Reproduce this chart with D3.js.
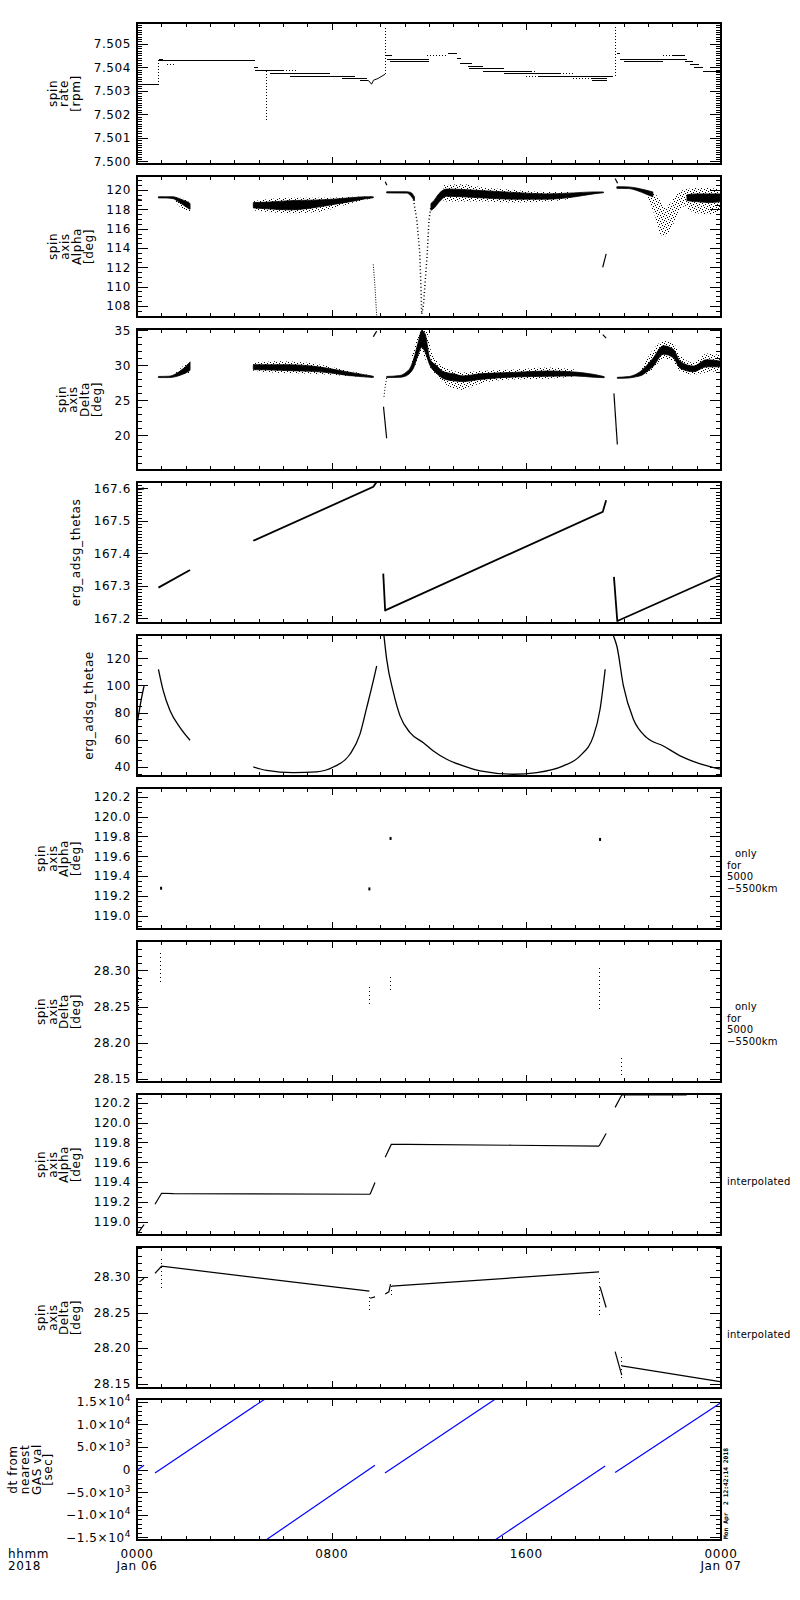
<!DOCTYPE html>
<html>
<head>
<meta charset="utf-8">
<script src="https://cdn.jsdelivr.net/npm/d3@7"></script>
<style>
  body { margin: 0; background: #fff; }
  svg { display: block; font-family: "DejaVu Sans", sans-serif; }
  svg text { letter-spacing: 0.6px; }
</style>
</head>
<body>
<div id="chart"></div>
<script>
// ---- data (time in hours after 0000 Jan 06 2018) ----

// spin rate steps [h0, h1, rpm]
const rateSteps = [
  [0, 0.9, 7.50325], [0.9, 1.08, 7.50435], [0.92, 4.85, 7.50428], [4.81, 4.99, 7.50398],
  [4.85, 6.0, 7.50385], [5.47, 7.93, 7.50375], [6.29, 8.96, 7.50362], [8.41, 9.44, 7.50352],
  [9.16, 9.5, 7.50345], [10.2, 10.47, 7.50449], [10.26, 11.98, 7.50435], [10.4, 11.98, 7.50426],
  [12.8, 13.14, 7.50457], [13.14, 13.3, 7.50437], [13.28, 13.76, 7.50415], [13.6, 14.2, 7.50403],
  [13.65, 15.1, 7.50395], [14.23, 16.2, 7.50384], [15.1, 17.4, 7.50375], [16.5, 19.58, 7.50361],
  [18.7, 19.3, 7.50352], [18.7, 19.3, 7.50344], [19.72, 19.85, 7.5046], [19.85, 22.59, 7.50435],
  [20.0, 21.6, 7.50426], [22.0, 22.5, 7.50449], [22.52, 22.85, 7.50423], [22.73, 23.1, 7.50412],
  [22.9, 23.27, 7.50401], [23.27, 24, 7.50384]
];
const rateDotted = [
  [1.22, 1.56, 7.50413], [6.0, 6.63, 7.50388], [11.9, 12.8, 7.50449], [16.2, 16.4, 7.50384],
  [17.4, 17.94, 7.50375], [16.0, 16.5, 7.50361], [17.9, 18.7, 7.50352], [21.6, 22.0, 7.50449]
];
const rateRamp = [[9.5, 7.50345], [9.64, 7.50328], [9.72, 7.50345], [9.9, 7.50352], [10.19, 7.5037]];
// vertical jumps [h, from, to]
const rateSpikes = [
  [0.9, 7.50325, 7.50435], [5.33, 7.50385, 7.50171], [10.2, 7.5037, 7.50574], [19.65, 7.50361, 7.50581]
];

// spin axis alpha: dense cores and scattered halos [h, lo, hi]
const alphaCore = [
  [[0.88, 119.18, 119.3], [1.2, 119.18, 119.3], [1.49, 119.1, 119.3], [1.7, 118.8, 119.15], [1.9, 118.45, 118.95], [2.05, 118.2, 118.8], [2.18, 118.0, 118.6]],
  [[4.78, 118.15, 118.7], [5.4, 118.05, 118.75], [6.3, 117.95, 118.9], [7.2, 118.15, 118.95], [8.07, 118.5, 119.05], [8.89, 118.85, 119.22], [9.4, 119.1, 119.3], [9.71, 119.2, 119.3]],
  [[10.26, 119.7, 119.82], [11.08, 119.68, 119.82], [11.25, 119.4, 119.75], [11.4, 118.9, 119.3]],
  [[12.08, 117.9, 118.6], [12.2, 118.1, 118.9], [12.4, 118.7, 119.6], [12.73, 119.35, 120.1], [13.4, 119.3, 120.05], [14.1, 119.2, 119.95], [15.47, 119.05, 119.75], [16.84, 119.05, 119.6], [17.94, 119.28, 119.7], [18.76, 119.6, 119.8], [19.17, 119.72, 119.8]],
  [[19.72, 120.17, 120.34], [20.2, 120.15, 120.32], [20.54, 119.95, 120.2], [20.9, 119.6, 120.0], [21.2, 119.3, 119.8]],
  [[22.6, 118.9, 119.5], [23.0, 118.8, 119.6], [23.5, 118.7, 119.6], [24, 118.8, 119.6]]
];
const alphaHalo = [
  [[1.6, 118.7, 119.3], [1.9, 118.0, 119.1], [2.18, 117.8, 118.7]],
  [[4.78, 117.9, 118.85], [6.3, 117.6, 119.2], [7.38, 117.7, 119.2], [8.07, 118.1, 119.2], [8.89, 118.7, 119.3], [9.71, 119.15, 119.32]],
  [[12.6, 118.8, 120.5], [13.4, 118.8, 120.6], [14.1, 118.8, 120.3], [15.5, 118.7, 120.0], [16.8, 118.8, 119.8], [17.9, 119.1, 119.8]],
  [[21.0, 119.0, 119.9], [21.3, 117.2, 119.6], [21.5, 115.4, 118.9], [21.7, 115.2, 118.2], [21.9, 115.8, 118.6], [22.1, 116.8, 119.3], [22.3, 118.0, 119.8], [22.6, 118.4, 120.1]],
  [[22.6, 118.0, 120.1], [23.0, 117.6, 120.2], [23.5, 117.5, 120.2], [24, 117.8, 120.0]]
];
const alphaDip = [
  [[11.36, 119.0], [11.5, 116.9], [11.62, 113.5], [11.67, 110], [11.7, 107.2]],
  [[11.7, 107.2], [11.77, 108], [11.93, 113.5], [12.0, 116.9], [12.08, 118.3]]
];
const alphaMarks = [
  [[0, 119.05], [0.2, 118.95]], [[10.2, 120.85], [10.27, 120.5]],
  [[19.65, 121.2], [19.75, 120.7]], [[19.14, 112.0], [19.28, 113.4]]
];
const alphaDrop = [[9.71, 112.3], [9.78, 110], [9.85, 107.0]];

// spin axis delta [h, lo, hi]
const deltaCore = [
  [[0.88, 28.26, 28.42], [1.3, 28.26, 28.45], [1.6, 28.4, 28.8], [1.85, 28.7, 29.4], [2.05, 29.0, 30.0], [2.18, 29.3, 30.5]],
  [[4.78, 29.4, 30.1], [5.5, 29.35, 30.1], [6.3, 29.25, 30.1], [7.2, 29.15, 29.9], [7.9, 28.95, 29.55], [8.6, 28.6, 29.1], [9.2, 28.4, 28.75], [9.71, 28.28, 28.45]],
  [[10.26, 28.26, 28.42], [10.8, 28.3, 28.55], [11.05, 28.5, 29.0], [11.22, 28.9, 29.6], [11.36, 29.6, 30.8], [11.57, 31.7, 33.5], [11.7, 32.6, 35.0], [11.84, 31.9, 34.5], [12.04, 30.0, 30.9], [12.3, 28.9, 30.0], [12.6, 28.1, 29.1], [13.0, 27.8, 28.8], [13.4, 27.7, 28.5], [14.1, 28.0, 28.8], [15.5, 28.35, 29.0], [16.9, 28.45, 29.2], [18.0, 28.5, 29.05], [18.8, 28.3, 28.7], [19.2, 28.25, 28.4]],
  [[19.74, 28.15, 28.3], [20.2, 28.2, 28.4], [20.54, 28.4, 28.8], [20.75, 28.6, 29.3], [20.95, 29.1, 30.0], [21.2, 29.8, 31.0], [21.63, 31.6, 32.8], [22.04, 31.1, 32.3], [22.32, 29.6, 30.6], [22.87, 29.1, 29.9], [23.4, 29.8, 30.8], [24, 29.8, 30.6]]
];
const deltaHalo = [
  [[1.6, 28.3, 29.0], [2.18, 29.0, 30.8]],
  [[4.78, 29.2, 30.4], [5.9, 28.9, 30.6], [7.2, 28.8, 30.3], [8.6, 28.5, 29.3], [9.71, 28.25, 28.5]],
  [[11.3, 29.0, 31.5], [11.57, 31.0, 34.5], [11.7, 32.0, 35.2], [11.9, 30.5, 35.0], [12.1, 29.5, 32], [12.6, 27.5, 29.8], [13.4, 26.5, 29.0], [14.1, 27.4, 29.2], [15.5, 28.0, 29.4], [16.9, 28.1, 29.7], [18.0, 28.4, 29.4]],
  [[20.75, 28.4, 29.6], [21.2, 29.4, 32.2], [21.63, 31.0, 33.5], [22.04, 30.5, 33.2], [22.32, 29.2, 31.5], [22.87, 28.7, 30.4], [23.41, 29.0, 31.7], [24, 29.2, 31.5]]
];
const deltaMarks = [
  [[0, 35.1], [0.35, 35.1]], [[9.71, 34.1], [9.85, 34.9]], [[19.14, 34.4], [19.28, 33.9]],
  [[10.13, 24.1], [10.26, 19.6]], [[19.6, 26.0], [19.74, 18.7]]
];
const deltaDrop = [[10.26, 28.2], [10.2, 27.0], [10.15, 25.5]];

// erg_adsg_thetas and erg_adsg_thetae [h, value]
const thetasSegs = [
  [[0, 167.597], [0.29, 167.6]],
  [[0.88, 167.295], [2.18, 167.349]],
  [[4.78, 167.439], [9.71, 167.605], [9.85, 167.62]],
  [[10.12, 167.338], [10.2, 167.222]],
  [[10.2, 167.225], [19.14, 167.528], [19.28, 167.564]],
  [[19.6, 167.328], [19.74, 167.19]],
  [[19.74, 167.192], [23.96, 167.333]]
];
const thetaeSegs = [
  [[0, 71.5], [0.1, 82], [0.2, 92], [0.29, 99.6]],
  [[0.88, 111.9], [1.08, 96], [1.36, 81.3], [1.77, 69], [2.18, 59.7]],
  [[4.78, 40.1], [5.33, 37.5], [6.42, 35.9], [7.38, 36.5], [8.07, 40], [8.75, 49.4], [9.16, 64], [9.44, 83.7], [9.71, 103.3], [9.85, 114.3]],
  [[10.15, 136.4], [10.26, 119.3], [10.54, 94.7], [10.81, 77.6], [11.22, 65.3], [11.77, 57.9], [12.18, 51.8], [12.73, 45.7], [13.41, 40.8], [14.1, 37.1], [15.47, 34.7], [16.43, 35.9], [17.52, 40.8], [18.21, 48.2], [18.76, 62.9], [19.03, 82.5], [19.24, 111.9]],
  [[19.58, 136.4], [19.72, 129], [19.99, 99.6], [20.4, 75.1], [20.95, 61.6], [21.63, 55.5], [22.32, 48.2], [23.0, 43.2], [23.96, 38.4]]
];

// only for 5000-5500km
const alphaOnly = [[0.99, 119.277], [9.55, 119.27], [10.42, 119.78], [19.03, 119.77]];
const deltaOnly = [
  [0.05, 28.239, 28.292], [0.97, 28.284, 28.324], [9.55, 28.254, 28.281],
  [10.42, 28.273, 28.291], [18.99, 28.246, 28.308], [19.91, 28.155, 28.183]
];

// interpolated
const alphaInterp = [
  [[0, 118.87], [0.29, 118.97]],
  [[0.74, 119.176], [1.01, 119.287], [1.5, 119.283], [9.58, 119.277]],
  [[9.58, 119.277], [9.78, 119.395]],
  [[10.2, 119.65], [10.45, 119.78], [11.1, 119.78], [15.45, 119.772], [18.99, 119.764]],
  [[18.99, 119.764], [19.28, 119.89]],
  [[19.65, 120.155], [19.92, 120.28], [22.59, 120.28]],
  [[23.97, 119.55], [23.97, 119.46]]
];
const deltaInterp = [
  [[0.1, 28.293], [0.29, 28.298]],
  [[0.74, 28.305], [1.01, 28.315], [9.55, 28.28]],
  [[9.58, 28.27], [9.78, 28.272]],
  [[10.2, 28.276], [10.35, 28.279], [10.42, 28.29]],
  [[10.47, 28.287], [18.99, 28.307]],
  [[19.03, 28.286], [19.28, 28.257]],
  [[19.65, 28.195], [19.92, 28.162]],
  [[19.92, 28.175], [23.96, 28.153]],
  [[23.97, 28.237], [23.97, 28.226]]
];
const deltaInterpDots = [
  [0.02, 28.247, 28.307], [1.01, 28.285, 28.328], [9.55, 28.254, 28.275],
  [10.47, 28.275, 28.289], [18.99, 28.247, 28.303], [19.91, 28.158, 28.19]
];

// dt from nearest GAS val [sec]
const dtSegs = [
  [[0, -150], [0.29, 950]],
  [[0.74, -750], [5.26, 15600]],
  [[5.3, -15560], [9.78, 950]],
  [[10.19, -750], [14.73, 15600]],
  [[14.71, -15560], [19.24, 800]],
  [[19.65, -670], [23.96, 14650]]
];
const dtTickValues = [-15000, -10000, -5000, 0, 5000, 10000, 15000];
const dtTickMantissa = ["\u22121.5\u00d710", "\u22121.0\u00d710", "\u22125.0\u00d710", "0", "5.0\u00d710", "1.0\u00d710", "1.5\u00d710"];
const dtTickExp = ["4", "4", "3", "", "3", "4", "4"];

// time axis
const hourTicks = d3.range(0, 25);
const xLabelHours = [0, 8, 16, 24];
const xLabelTimes = ["0000", "0800", "1600", "0000"];
const xLabelDates = ["Jan 06", "", "", "Jan 07"];

const alphaTitle = ["spin", "axis", "Alpha", "[deg]"];
const deltaTitle = ["spin", "axis", "Delta", "[deg]"];
const kmNote = ["only", "for", "5000", "\u22125500km"];
const stamp = "Mon Apr  2 12:42:14 2018";

// ---- layout ----
const left = 137, right = 721, W = right - left;
const panelH = 141;
const panelTops = d3.range(10).map(i => Math.round(23.3 + i * 152.9));

const svg = d3.select("#chart").append("svg")
  .attr("width", 800)
  .attr("height", 1600);

// sparse speckle pattern standing in for scattered points
const spk = svg.append("defs").append("pattern")
  .attr("id", "speckle")
  .attr("patternUnits", "userSpaceOnUse")
  .attr("width", 6).attr("height", 6);
[[0, 0], [3, 1], [1, 3], [4, 4], [5, 2], [2, 5]].forEach(p => {
  spk.append("rect").attr("x", p[0]).attr("y", p[1]).attr("width", 1).attr("height", 1).attr("fill", "#000");
});

const x = d3.scaleLinear().domain([0, 24]).range([0, W]);

function steps(domain, step) {
  const k0 = Math.ceil(domain[0] / step - 1e-9), k1 = Math.floor(domain[1] / step + 1e-9);
  return d3.range(k0, k1 + 1).map(k => +(k * step).toPrecision(12));
}

// drawing helpers
function lines(g, y, segs, width, color, curve) {
  const gen = d3.line().x(d => x(d[0])).y(d => y(d[1]));
  if (curve) gen.curve(curve);
  g.append("g").selectAll("path").data(segs).join("path")
    .attr("d", gen)
    .attr("fill", "none")
    .attr("stroke", color || "#000")
    .attr("stroke-width", width || 1);
}
function bands(g, y, chunks, fill) {
  const area = d3.area().x(d => x(d[0])).y0(d => y(d[1])).y1(d => y(d[2])).curve(d3.curveMonotoneX);
  g.append("g").selectAll("path").data(chunks).join("path")
    .attr("d", area)
    .attr("fill", fill)
    .attr("stroke", fill === "#000" ? "#000" : "none")
    .attr("stroke-width", 0.8);
}
function hsteps(g, y, data, dash) {
  g.append("g").selectAll("line").data(data).join("line")
    .attr("x1", d => x(d[0])).attr("x2", d => x(d[1]))
    .attr("y1", d => y(d[2])).attr("y2", d => y(d[2]))
    .attr("stroke", "#000").attr("stroke-dasharray", dash || null)
    .attr("shape-rendering", "crispEdges");
}
function vcols(g, y, data, dash) {
  g.append("g").selectAll("line").data(data).join("line")
    .attr("x1", d => x(d[0])).attr("x2", d => x(d[0]))
    .attr("y1", d => y(d[1])).attr("y2", d => y(d[2]))
    .attr("stroke", "#000").attr("stroke-dasharray", dash)
    .attr("shape-rendering", "crispEdges");
}

const panels = [
  { title: ["spin", "rate", "[rpm]"], domain: [7.49989, 7.50588], major: 0.001, minor: 0.0001, fmt: d3.format(".3f"),
    draw: (g, y) => {
      hsteps(g, y, rateSteps);
      hsteps(g, y, rateDotted, "1,2");
      vcols(g, y, rateSpikes, "1,2");
      lines(g, y, [rateRamp]);
    } },
  { title: alphaTitle, domain: [106.86, 121.45], major: 2, minor: 0.5, fmt: d3.format("d"),
    draw: (g, y) => {
      bands(g, y, alphaHalo, "url(#speckle)");
      bands(g, y, alphaCore, "#000");
      g.append("g").selectAll("path").data(alphaDip).join("path")
        .attr("d", d3.line().x(d => x(d[0])).y(d => y(d[1])))
        .attr("fill", "none").attr("stroke", "#000").attr("stroke-width", 1.5)
        .attr("stroke-dasharray", "1,2.5");
      lines(g, y, alphaMarks, 1.2);
      g.append("path").attr("d", d3.line().x(d => x(d[0])).y(d => y(d[1]))(alphaDrop))
        .attr("fill", "none").attr("stroke", "#000").attr("stroke-dasharray", "1,1.5");
    } },
  { title: deltaTitle, domain: [15.06, 35.2], major: 5, minor: 1, fmt: d3.format("d"),
    draw: (g, y) => {
      bands(g, y, deltaHalo, "url(#speckle)");
      bands(g, y, deltaCore, "#000");
      lines(g, y, deltaMarks, 1.2);
      g.append("path").attr("d", d3.line().x(d => x(d[0])).y(d => y(d[1]))(deltaDrop))
        .attr("fill", "none").attr("stroke", "#000").attr("stroke-dasharray", "1,2");
    } },
  { title: ["erg_adsg_thetas"], domain: [167.186, 167.62], major: 0.1, minor: 0.01, fmt: d3.format(".1f"),
    draw: (g, y) => lines(g, y, thetasSegs, 1.8) },
  { title: ["erg_adsg_thetae"], domain: [33.4, 137.1], major: 20, minor: 5, fmt: d3.format("d"),
    draw: (g, y) => lines(g, y, thetaeSegs, 1.3, "#000", d3.curveMonotoneX) },
  { title: alphaTitle, domain: [118.865, 120.29], major: 0.2, minor: 0.05, fmt: d3.format(".1f"), note: kmNote,
    draw: (g, y) => {
      g.append("g").selectAll("rect").data(alphaOnly).join("rect")
        .attr("x", d => x(d[0]) - 1).attr("y", d => y(d[1]) - 1.5)
        .attr("width", 2).attr("height", 3).attr("fill", "#000");
    } },
  { title: deltaTitle, domain: [28.1457, 28.3405], major: 0.05, minor: 0.01, fmt: d3.format(".2f"), note: kmNote,
    draw: (g, y) => vcols(g, y, deltaOnly, "1,3") },
  { title: alphaTitle, domain: [118.865, 120.29], major: 0.2, minor: 0.05, fmt: d3.format(".1f"), note: ["interpolated"],
    draw: (g, y) => lines(g, y, alphaInterp, 1.2) },
  { title: deltaTitle, domain: [28.144, 28.342], major: 0.05, minor: 0.01, fmt: d3.format(".2f"), note: ["interpolated"],
    draw: (g, y) => {
      lines(g, y, deltaInterp, 1.2);
      vcols(g, y, deltaInterpDots, "1,3");
    } },
  { title: ["dt from", "nearest", "GAS val", "[sec]"], domain: [-15560, 15600], major: 5000, minor: 1000, fmt: d3.format("d"),
    draw: (g, y) => lines(g, y, dtSegs, 1.2, "#0000ff") }
];

panels.forEach((p, i) => {
  const top = panelTops[i];
  const y = d3.scaleLinear().domain(p.domain).range([panelH, 0]);
  const g = svg.append("g").attr("transform", `translate(${left},${top})`);

  g.append("clipPath").attr("id", "clip" + i)
    .append("rect").attr("width", W).attr("height", panelH);
  const plot = g.append("g").attr("clip-path", `url(#clip${i})`);
  p.draw(plot, y);

  const majorVals = steps(p.domain, p.major);
  const minorVals = steps(p.domain, p.minor).filter(v => !majorVals.some(m => Math.abs(m - v) < p.minor / 10));
  const tidy = a => a.call(s => s.select(".domain").remove())
    .attr("font-size", 12).attr("font-family", "DejaVu Sans, sans-serif")
    .attr("shape-rendering", "crispEdges");

  // left axis, ticks pointing inward
  g.append("g").call(d3.axisLeft(y).tickValues(minorVals).tickSize(-5).tickFormat("")).call(tidy);
  const yAxis = g.append("g")
    .call(d3.axisLeft(y).tickValues(majorVals).tickSize(-11).tickPadding(6).tickFormat(p.fmt))
    .call(tidy);
  yAxis.selectAll("text").attr("fill", "#000");

  if (i === 9) {
    yAxis.selectAll("text").each(function (d) {
      const k = dtTickValues.indexOf(d);
      const t = d3.select(this).text(dtTickMantissa[k]);
      if (dtTickExp[k]) t.append("tspan").attr("dy", -5).attr("font-size", 9).text(dtTickExp[k]);
    });
  }

  // right axis mirror
  const gr = g.append("g").attr("transform", `translate(${W},0)`);
  gr.append("g").call(d3.axisRight(y).tickValues(minorVals).tickSize(-5).tickFormat("")).call(tidy);
  gr.append("g").call(d3.axisRight(y).tickValues(majorVals).tickSize(-11).tickFormat("")).call(tidy);

  // hourly time ticks, top and bottom
  const minorHours = hourTicks.filter(h => !xLabelHours.includes(h));
  g.append("g").call(d3.axisTop(x).tickValues(minorHours).tickSize(-4).tickFormat("")).call(tidy);
  g.append("g").call(d3.axisTop(x).tickValues(xLabelHours).tickSize(-7).tickFormat("")).call(tidy);
  const gb = g.append("g").attr("transform", `translate(0,${panelH})`);
  gb.append("g").call(d3.axisBottom(x).tickValues(minorHours).tickSize(-4).tickFormat("")).call(tidy);
  gb.append("g").call(d3.axisBottom(x).tickValues(xLabelHours).tickSize(-7).tickFormat("")).call(tidy);

  // frame
  g.append("rect").attr("width", W).attr("height", panelH)
    .attr("fill", "none").attr("stroke", "#000").attr("stroke-width", 1.2)
    .attr("shape-rendering", "crispEdges");

  // y title, stacked rotated lines, last line nearest the tick labels
  const labelLeft = d3.min(yAxis.selectAll("text").nodes(), n => n.getBBox().x);
  const n = p.title.length;
  p.title.forEach((t, k) => {
    const cx = labelLeft - 17.7 - (n - 1 - k) * 11.7;
    g.append("text")
      .attr("transform", `translate(${cx},${panelH / 2}) rotate(-90)`)
      .attr("text-anchor", "middle")
      .attr("dominant-baseline", "central")
      .attr("font-size", 12)
      .text(t);
  });

  // right-hand notes
  if (p.note) {
    const rows = p.note.length === 1 ? [91] : [69, 80.5, 92, 103.5];
    p.note.forEach((t, k) => {
      g.append("text")
        .attr("x", W + 6 + (k === 0 && p.note.length > 1 ? 8 : 0))
        .attr("y", rows[k])
        .attr("font-size", 10)
        .style("letter-spacing", "0.2px")
        .text(t);
    });
  }

  // time labels under the last panel
  if (i === 9) {
    xLabelHours.forEach((h, k) => {
      g.append("text").attr("x", x(h)).attr("y", panelH + 18)
        .attr("text-anchor", "middle").attr("font-size", 12).text(xLabelTimes[k]);
      if (xLabelDates[k]) {
        g.append("text").attr("x", x(h)).attr("y", panelH + 30)
          .attr("text-anchor", "middle").attr("font-size", 12).text(xLabelDates[k]);
      }
    });
    g.append("text").attr("x", 8 - left).attr("y", panelH + 18).attr("font-size", 12).text("hhmm");
    g.append("text").attr("x", 8 - left).attr("y", panelH + 30).attr("font-size", 12).text("2018");

    g.append("text")
      .attr("transform", `translate(${W + 6.5},${panelH - 1}) rotate(-90)`)
      .attr("font-family", "DejaVu Sans Mono, monospace")
      .attr("font-weight", "bold")
      .attr("font-size", 6.3)
      .style("letter-spacing", "0px")
      .style("white-space", "pre")
      .text(stamp);
  }
});
</script>
</body>
</html>
